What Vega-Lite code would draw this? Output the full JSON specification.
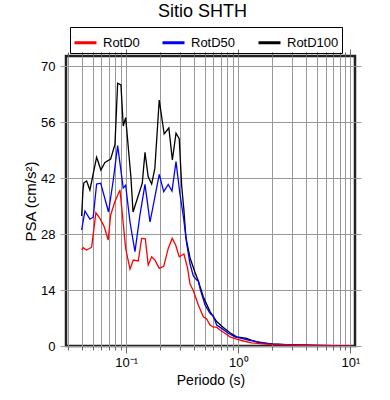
{
  "$schema": "https://vega.github.io/schema/vega-lite/v6.json",
  "width": 289,
  "height": 290,
  "autosize": "none",
  "padding": {"left": 66, "top": 56, "right": 35, "bottom": 54},
  "config": {
    "font": "Liberation Sans",
    "view": {"stroke": "#222", "strokeWidth": 2.5},
    "axis": {"labelFont": "Liberation Sans", "titleFont": "Liberation Sans", "labelColor": "#000", "titleColor": "#000", "titleFontWeight": "normal"}
  },
  "title": {"text": "Sitio SHTH", "fontSize": 18, "fontWeight": "normal", "color": "#000", "font": "Liberation Sans", "anchor": "middle", "offset": 6, "dx": -8},
  "data": {
    "values": [
      {"s": "RotD100", "t": 0.040, "v": 32.5},
      {"s": "RotD100", "t": 0.0411, "v": 39},
      {"s": "RotD100", "t": 0.0419, "v": 40.8},
      {"s": "RotD100", "t": 0.0443, "v": 41.25},
      {"s": "RotD100", "t": 0.0474, "v": 39},
      {"s": "RotD100", "t": 0.0544, "v": 47.2},
      {"s": "RotD100", "t": 0.0594, "v": 44},
      {"s": "RotD100", "t": 0.0645, "v": 45.9},
      {"s": "RotD100", "t": 0.0726, "v": 46.75},
      {"s": "RotD100", "t": 0.0793, "v": 50.4},
      {"s": "RotD100", "t": 0.0838, "v": 65.7},
      {"s": "RotD100", "t": 0.0897, "v": 65.25},
      {"s": "RotD100", "t": 0.094, "v": 55},
      {"s": "RotD100", "t": 0.0988, "v": 57.1},
      {"s": "RotD100", "t": 0.110, "v": 42.3},
      {"s": "RotD100", "t": 0.115, "v": 33.5},
      {"s": "RotD100", "t": 0.139, "v": 40.7},
      {"s": "RotD100", "t": 0.147, "v": 48.4},
      {"s": "RotD100", "t": 0.157, "v": 42.3},
      {"s": "RotD100", "t": 0.1686, "v": 40.5},
      {"s": "RotD100", "t": 0.180, "v": 44.4},
      {"s": "RotD100", "t": 0.197, "v": 61.5},
      {"s": "RotD100", "t": 0.218, "v": 53},
      {"s": "RotD100", "t": 0.240, "v": 54.5},
      {"s": "RotD100", "t": 0.258, "v": 46.5},
      {"s": "RotD100", "t": 0.278, "v": 53.2},
      {"s": "RotD100", "t": 0.297, "v": 51.8},
      {"s": "RotD100", "t": 0.3125, "v": 40},
      {"s": "RotD100", "t": 0.327, "v": 34},
      {"s": "RotD100", "t": 0.341, "v": 27},
      {"s": "RotD100", "t": 0.371, "v": 22},
      {"s": "RotD100", "t": 0.41, "v": 18.5},
      {"s": "RotD100", "t": 0.44, "v": 16.2},
      {"s": "RotD100", "t": 0.487, "v": 12.3},
      {"s": "RotD100", "t": 0.559, "v": 8.6},
      {"s": "RotD100", "t": 0.641, "v": 6.1},
      {"s": "RotD100", "t": 0.735, "v": 4.6},
      {"s": "RotD100", "t": 0.843, "v": 3.3},
      {"s": "RotD100", "t": 0.968, "v": 2.3},
      {"s": "RotD100", "t": 1.19, "v": 1.9},
      {"s": "RotD100", "t": 1.36, "v": 1.25},
      {"s": "RotD100", "t": 1.56, "v": 0.8},
      {"s": "RotD100", "t": 2.0, "v": 0.5},
      {"s": "RotD100", "t": 3.0, "v": 0.3},
      {"s": "RotD100", "t": 5.0, "v": 0.15},
      {"s": "RotD100", "t": 7.0, "v": 0.08},
      {"s": "RotD100", "t": 10.0, "v": 0.05},
      {"s": "RotD50", "t": 0.040, "v": 29},
      {"s": "RotD50", "t": 0.0428, "v": 33.75},
      {"s": "RotD50", "t": 0.0474, "v": 31.7},
      {"s": "RotD50", "t": 0.0507, "v": 32.2},
      {"s": "RotD50", "t": 0.0544, "v": 40.5},
      {"s": "RotD50", "t": 0.0591, "v": 40.7},
      {"s": "RotD50", "t": 0.0695, "v": 33.5},
      {"s": "RotD50", "t": 0.0766, "v": 41.5},
      {"s": "RotD50", "t": 0.0838, "v": 50.1},
      {"s": "RotD50", "t": 0.094, "v": 39.5},
      {"s": "RotD50", "t": 0.0988, "v": 40.2},
      {"s": "RotD50", "t": 0.108, "v": 31},
      {"s": "RotD50", "t": 0.1196, "v": 23.6},
      {"s": "RotD50", "t": 0.1325, "v": 32.75},
      {"s": "RotD50", "t": 0.147, "v": 40.4},
      {"s": "RotD50", "t": 0.163, "v": 31},
      {"s": "RotD50", "t": 0.197, "v": 42.9},
      {"s": "RotD50", "t": 0.216, "v": 38.6},
      {"s": "RotD50", "t": 0.237, "v": 40.4},
      {"s": "RotD50", "t": 0.256, "v": 38.75},
      {"s": "RotD50", "t": 0.278, "v": 46.1},
      {"s": "RotD50", "t": 0.3015, "v": 38},
      {"s": "RotD50", "t": 0.323, "v": 32.5},
      {"s": "RotD50", "t": 0.346, "v": 25.7},
      {"s": "RotD50", "t": 0.371, "v": 20.5},
      {"s": "RotD50", "t": 0.397, "v": 17.5},
      {"s": "RotD50", "t": 0.425, "v": 16.5},
      {"s": "RotD50", "t": 0.44, "v": 16.3},
      {"s": "RotD50", "t": 0.455, "v": 14.4},
      {"s": "RotD50", "t": 0.505, "v": 10.25},
      {"s": "RotD50", "t": 0.559, "v": 8.2},
      {"s": "RotD50", "t": 0.598, "v": 7.5},
      {"s": "RotD50", "t": 0.641, "v": 5.25},
      {"s": "RotD50", "t": 0.711, "v": 4.4},
      {"s": "RotD50", "t": 0.814, "v": 3.2},
      {"s": "RotD50", "t": 0.934, "v": 2.3},
      {"s": "RotD50", "t": 1.072, "v": 1.9},
      {"s": "RotD50", "t": 1.228, "v": 1.5},
      {"s": "RotD50", "t": 1.459, "v": 1.1},
      {"s": "RotD50", "t": 2.0, "v": 0.45},
      {"s": "RotD50", "t": 3.0, "v": 0.25},
      {"s": "RotD50", "t": 5.0, "v": 0.12},
      {"s": "RotD50", "t": 7.0, "v": 0.07},
      {"s": "RotD50", "t": 10.0, "v": 0.04},
      {"s": "RotD0", "t": 0.040, "v": 24},
      {"s": "RotD0", "t": 0.0413, "v": 24.6},
      {"s": "RotD0", "t": 0.0443, "v": 24},
      {"s": "RotD0", "t": 0.0491, "v": 24.7},
      {"s": "RotD0", "t": 0.0536, "v": 33.3},
      {"s": "RotD0", "t": 0.0582, "v": 31.9},
      {"s": "RotD0", "t": 0.0636, "v": 29.8},
      {"s": "RotD0", "t": 0.069, "v": 26.5},
      {"s": "RotD0", "t": 0.0726, "v": 32.75},
      {"s": "RotD0", "t": 0.0793, "v": 36.1},
      {"s": "RotD0", "t": 0.0879, "v": 39},
      {"s": "RotD0", "t": 0.0988, "v": 24.4},
      {"s": "RotD0", "t": 0.108, "v": 19.2},
      {"s": "RotD0", "t": 0.1155, "v": 21.5},
      {"s": "RotD0", "t": 0.128, "v": 21.25},
      {"s": "RotD0", "t": 0.1372, "v": 26.9},
      {"s": "RotD0", "t": 0.148, "v": 26.8},
      {"s": "RotD0", "t": 0.157, "v": 20.25},
      {"s": "RotD0", "t": 0.1686, "v": 22.3},
      {"s": "RotD0", "t": 0.180, "v": 21.5},
      {"s": "RotD0", "t": 0.197, "v": 19.4},
      {"s": "RotD0", "t": 0.216, "v": 19.9},
      {"s": "RotD0", "t": 0.237, "v": 24.4},
      {"s": "RotD0", "t": 0.257, "v": 26.9},
      {"s": "RotD0", "t": 0.276, "v": 25.25},
      {"s": "RotD0", "t": 0.297, "v": 22.3},
      {"s": "RotD0", "t": 0.327, "v": 23},
      {"s": "RotD0", "t": 0.353, "v": 19.4},
      {"s": "RotD0", "t": 0.371, "v": 15.5},
      {"s": "RotD0", "t": 0.397, "v": 13.8},
      {"s": "RotD0", "t": 0.44, "v": 10.25},
      {"s": "RotD0", "t": 0.487, "v": 7.3},
      {"s": "RotD0", "t": 0.522, "v": 6.75},
      {"s": "RotD0", "t": 0.559, "v": 5.25},
      {"s": "RotD0", "t": 0.598, "v": 4.7},
      {"s": "RotD0", "t": 0.641, "v": 4.7},
      {"s": "RotD0", "t": 0.687, "v": 4.0},
      {"s": "RotD0", "t": 0.76, "v": 3.2},
      {"s": "RotD0", "t": 0.843, "v": 2.3},
      {"s": "RotD0", "t": 0.968, "v": 1.7},
      {"s": "RotD0", "t": 1.108, "v": 1.25},
      {"s": "RotD0", "t": 1.318, "v": 0.8},
      {"s": "RotD0", "t": 2.0, "v": 0.35},
      {"s": "RotD0", "t": 3.0, "v": 0.2},
      {"s": "RotD0", "t": 5.0, "v": 0.1},
      {"s": "RotD0", "t": 7.0, "v": 0.05},
      {"s": "RotD0", "t": 10.0, "v": 0.03}
    ]
  },
  "layer": [
    {
      "mark": {"type": "line", "strokeWidth": 1.3, "clip": true},
      "encoding": {
        "x": {
          "field": "t", "type": "quantitative",
          "scale": {"type": "log", "domain": [0.029, 11], "nice": false},
          "axis": {
            "orient": "bottom",
            "title": "Periodo (s)", "titleFontSize": 14, "titlePadding": 4,
            "values": [0.03,0.04,0.05,0.06,0.07,0.08,0.09,0.1,0.2,0.3,0.4,0.5,0.6,0.7,0.8,0.9,1,2,3,4,5,6,7,8,9,10],
            "labelExpr": "datum.value == 0.1 ? '10⁻¹' : datum.value == 1 ? '10⁰' : datum.value == 10 ? '10¹' : ''",
            "labelOverlap": false, "labelFlush": false, "labelBound": false,
            "labelFontSize": 13, "labelPadding": 3,
            "grid": true, "gridColor": "#999", "gridWidth": 1,
            "domain": false,
            "tickColor": "#666",
            "tickSize": {"condition": {"test": "datum.value == 0.1 || datum.value == 1 || datum.value == 10", "value": 7}, "value": 4}
          }
        },
        "y": {
          "field": "v", "type": "quantitative",
          "scale": {"domain": [0, 72.5], "nice": false, "zero": false},
          "axis": {
            "orient": "left",
            "title": "PSA (cm/s²)", "titleFontSize": 15, "titlePadding": 2,
            "values": [0, 14, 28, 42, 56, 70],
            "labelFontSize": 13, "labelPadding": 5,
            "grid": true, "gridColor": "#999", "gridWidth": 1,
            "domain": false, "tickColor": "#999", "tickSize": 6
          }
        },
        "color": {
          "field": "s", "type": "nominal",
          "scale": {"domain": ["RotD0", "RotD50", "RotD100"], "range": ["#ff0000", "#0000ff", "#000000"]},
          "legend": {
            "orient": "none", "legendX": 4, "legendY": -29,
            "direction": "horizontal", "title": null,
            "strokeColor": "#000", "padding": 3,
            "symbolType": "stroke", "symbolStrokeWidth": 3, "symbolSize": 484,
            "labelFontSize": 13, "labelFont": "Liberation Sans", "labelColor": "#000",
            "columnPadding": 16, "labelOffset": 5
          }
        }
      }
    },
    {
      "mark": {"type": "line", "opacity": 0},
      "encoding": {
        "x": {
          "field": "t", "type": "quantitative",
          "axis": {
            "orient": "top", "title": null, "labels": false, "grid": false, "domain": false,
            "values": [0.03,0.04,0.05,0.06,0.07,0.08,0.09,0.1,0.2,0.3,0.4,0.5,0.6,0.7,0.8,0.9,1,2,3,4,5,6,7,8,9,10],
            "tickColor": "#666",
            "tickSize": {"condition": {"test": "datum.value == 0.1 || datum.value == 1 || datum.value == 10", "value": 7}, "value": 4}
          }
        },
        "y": {
          "field": "v", "type": "quantitative",
          "axis": {
            "orient": "right", "title": null, "labels": false, "grid": false, "domain": false,
            "values": [0, 14, 28, 42, 56, 70], "tickColor": "#999", "tickSize": 6
          }
        }
      }
    }
  ],
  "resolve": {"axis": {"x": "independent", "y": "independent"}}
}
